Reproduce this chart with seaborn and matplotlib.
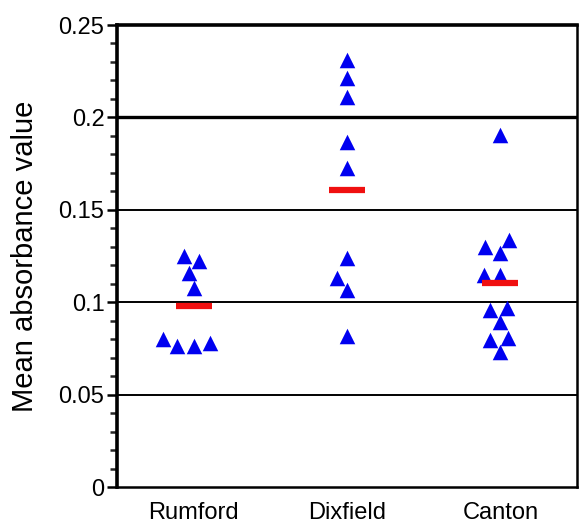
import numpy as np
import pandas as pd
import matplotlib
matplotlib.use("Agg")
import matplotlib.pyplot as plt
import seaborn as sns
from matplotlib.ticker import MultipleLocator, FixedLocator

categories = ["Rumford", "Dixfield", "Canton"]
rumford = [0.125, 0.1225, 0.1158, 0.1077, 0.0801, 0.0779, 0.0763, 0.0763]
dixfield = [0.231, 0.2213, 0.211, 0.1867, 0.1726, 0.1239, 0.1131, 0.1066, 0.0817]
canton = [0.1905, 0.1337, 0.1299, 0.1266, 0.1147, 0.1147, 0.0969, 0.0958,
          0.0893, 0.0806, 0.0795, 0.0731]
y_ticks = [0, 0.05, 0.1, 0.15, 0.2, 0.25]
y_tick_labels = ["0", "0.05", "0.1", "0.15", "0.2", "0.25"]

df = pd.DataFrame({
    "site": ["Rumford"] * len(rumford) + ["Dixfield"] * len(dixfield) + ["Canton"] * len(canton),
    "value": rumford + dixfield + canton,
})

sns.set_theme(style="white")
plt.rcParams["font.family"] = ["Liberation Sans", "DejaVu Sans"]

fig = plt.figure(figsize=(5.8, 5.25), dpi=100)
ax = fig.add_axes([117 / 580, 38 / 525, 460 / 580, 462 / 525])

# gridlines
for v in [0.05, 0.1, 0.15]:
    ax.axhline(v, color="black", lw=1.4, zorder=0)
ax.axhline(0.2, color="black", lw=2.4, zorder=0)

sns.swarmplot(data=df, x="site", y="value", order=categories, marker="^",
              color="#0000F0", size=7, linewidth=0, ax=ax, zorder=3)
for coll in ax.collections:
    coll.set_sizes([125])

sns.pointplot(data=df, x="site", y="value", order=categories, estimator="mean",
              errorbar=None, color="#F01010", markers="_", linestyle="none",
              markersize=26, markeredgewidth=4.5, ax=ax, zorder=4)

ax.set_xlim(-0.5, 2.5)
ax.set_ylim(0, 0.25)
ax.yaxis.set_major_locator(FixedLocator(y_ticks))
ax.set_yticklabels(y_tick_labels)
ax.yaxis.set_minor_locator(MultipleLocator(0.01))

ax.tick_params(axis="y", which="major", direction="out", length=7, width=1.8,
               labelsize=17, pad=2, left=True, colors="black")
ax.tick_params(axis="y", which="minor", direction="out", length=5, width=1.8, left=True)
ax.tick_params(axis="x", which="both", length=0, labelsize=17, pad=11)
for lab in ax.get_xticklabels() + ax.get_yticklabels():
    lab.set_color("black")

ax.set_xlabel("")
ax.set_ylabel("Mean absorbance value", fontsize=21, labelpad=14, color="black")

for side in ["left", "top"]:
    ax.spines[side].set_linewidth(2.6)
for side in ["right", "bottom"]:
    ax.spines[side].set_linewidth(1.8)
for sp in ax.spines.values():
    sp.set_color("black")
    sp.set_visible(True)

fig.savefig("out.png", dpi=100, facecolor="white")
